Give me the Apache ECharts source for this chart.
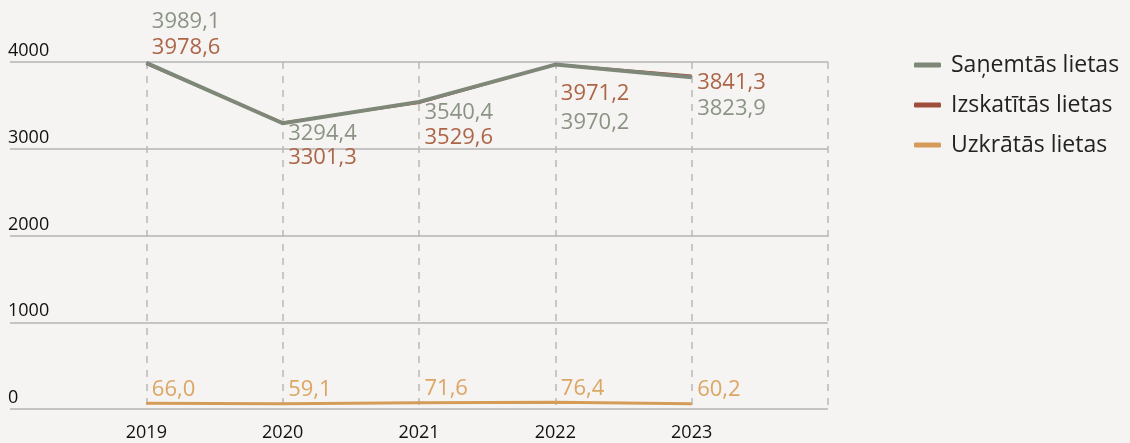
<!DOCTYPE html>
<html>
<head>
<meta charset="utf-8">
<script src="https://cdn.jsdelivr.net/npm/echarts@6/dist/echarts.min.js"></script>
<style>
  html, body { margin: 0; padding: 0; background: #f5f4f2; }
  #chart { width: 1130px; height: 443px; }
</style>
</head>
<body>
<div id="chart"></div>
<script>
'use strict';

// dati
var years = [2019, 2020, 2021, 2022, 2023];
var sanemtas = [3989.1, 3294.4, 3540.4, 3970.2, 3823.9];
var izskatitas = [3978.6, 3301.3, 3529.6, 3971.2, 3841.3];
var uzkratas = [66.0, 59.1, 71.6, 76.4, 60.2];
var seriesNames = ['Saņemtās lietas', 'Izskatītās lietas', 'Uzkrātās lietas'];

// label offsets (vertical) per point
var sanOffsets = [-41, 11, 11, 58, 31];
var izsOffsets = [-16, 35, 35, 29, 7];

var fmt = function (v) { return v.toFixed(1).replace('.', ','); };

function buildData(vals, offs) {
    var out = [];
    for (var i = 0; i < vals.length; i++) {
        out.push({
            value: [years[i], vals[i]],
            label: { offset: [0, offs ? offs[i] : -14] }
        });
    }
    return out;
}

var chart = echarts.init(document.getElementById('chart'));

var labelBase = {
    show: true,
    position: 'right',
    distance: 5,
    fontFamily: 'Open Sans',
    fontSize: 22,
    formatter: function (p) { return fmt(p.value[1]); }
};

chart.setOption({
    backgroundColor: '#f5f4f2',
    animation: false,
    textStyle: { fontFamily: 'Open Sans' },
    grid: { left: 10, right: 302, top: 62, bottom: 34 },
    legend: {
        data: seriesNames,
        orient: 'vertical',
        left: 909,
        top: 46,
        itemWidth: 27,
        itemHeight: 5,
        itemGap: 12,
        icon: 'roundRect',
        itemStyle: { borderWidth: 0 },
        textStyle: { fontSize: 23, color: '#222', lineHeight: 28, padding: [0, 0, 0, 5] }
    },
    xAxis: {
        type: 'value',
        min: 2018,
        max: 2024,
        interval: 1,
        axisLine: { show: false },
        axisTick: { show: false },
        axisLabel: {
            showMinLabel: false,
            showMaxLabel: false,
            margin: 15,
            fontSize: 18,
            color: '#111',
            formatter: function (v) { return String(v); }
        },
        splitLine: {
            show: true,
            showMinLine: false,
            lineStyle: { color: '#b8b8b8', width: 1.5, type: [7, 7] }
        }
    },
    yAxis: {
        type: 'value',
        min: 0,
        max: 4000,
        interval: 1000,
        axisLine: { show: false },
        axisTick: { show: false },
        axisLabel: {
            inside: true,
            margin: -2,
            fontSize: 18,
            color: '#111',
            verticalAlign: 'bottom',
            padding: [0, 0, 2, 0],
            formatter: function (v) { return String(v); }
        },
        splitLine: { lineStyle: { color: '#b4b4b4', width: 1.5 } }
    },
    series: [
        {
            name: seriesNames[1],
            type: 'line',
            data: buildData(izskatitas, izsOffsets),
            color: '#9e4e3b',
            symbol: 'circle',
            symbolSize: 1,
            lineStyle: { width: 2.5 },
            label: Object.assign({}, labelBase, { color: '#ad6548' }),
            z: 2
        },
        {
            name: seriesNames[0],
            type: 'line',
            data: buildData(sanemtas, sanOffsets),
            color: '#7f8878',
            symbol: 'circle',
            symbolSize: 1,
            lineStyle: { width: 4 },
            label: Object.assign({}, labelBase, { color: '#8b9385' }),
            z: 3
        },
        {
            name: seriesNames[2],
            type: 'line',
            data: buildData(uzkratas, null),
            color: '#d59c58',
            symbol: 'circle',
            symbolSize: 1,
            lineStyle: { width: 3 },
            label: Object.assign({}, labelBase, { color: '#dba664' }),
            z: 2
        }
    ]
});
</script>
</body>
</html>
